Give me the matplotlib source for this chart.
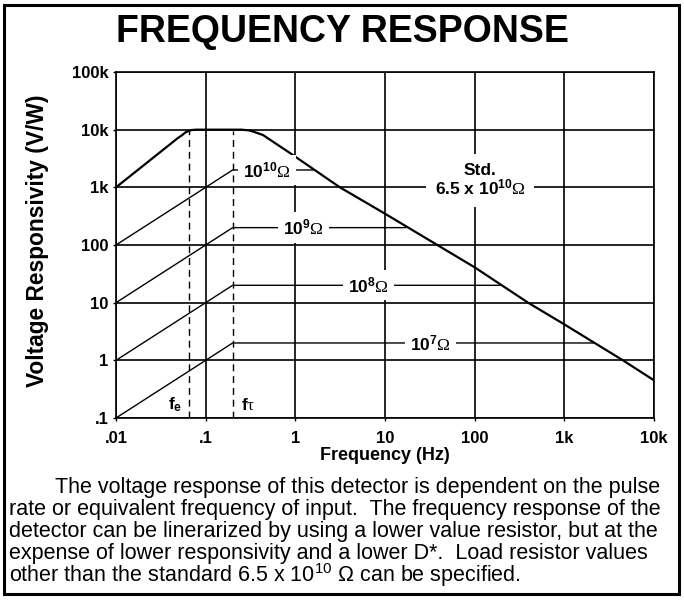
import matplotlib
matplotlib.use("Agg")
import matplotlib.pyplot as plt
from matplotlib.patches import Rectangle

plt.rcParams['font.family'] = ['Liberation Sans', 'DejaVu Sans']
plt.rcParams['mathtext.fontset'] = 'custom'
plt.rcParams['mathtext.rm'] = 'Liberation Serif'
plt.rcParams['mathtext.it'] = 'Liberation Serif:italic'
plt.rcParams['mathtext.bf'] = 'Liberation Sans:bold'
plt.rcParams['mathtext.sf'] = 'Liberation Sans'

# ---------------- data ----------------
std_freq = [0.01, 0.049, 0.055, 0.0588, 0.064, 0.070, 0.078,
            0.25, 0.30, 0.34, 0.436, 0.87, 3.14, 10, 100, 394, 1000, 4510, 10000]
std_resp = [1000, 7160, 8100, 8850, 9450, 9850, 10000,
            10000, 9750, 9250, 8070, 3940, 1000, 349, 41, 10, 4.2, 1.0, 0.45]

f_e = 0.065
f_tau = 0.2

res_names = ["10", "9", "8", "7"]          # exponent of load resistor
res_start = [100, 10, 1, 0.1]              # response at 0.01 Hz
res_plateau = [2000, 200, 20, 2]           # flat response above f_tau
res_end_freq = [1.64, 17, 190, 2100]       # where the line meets the std curve
res_label_freq = [0.48, 1.22, 6.6, 32]

x_ticks = [0.01, 0.1, 1, 10, 100, 1000, 10000]
x_tick_labels = [".01", ".1", "1", "10", "100", "1k", "10k"]
y_ticks = [0.1, 1, 10, 100, 1000, 10000, 100000]
y_tick_labels = [".1", "1", "10", "100", "1k", "10k", "100k"]

body_lines = [
    "The voltage response of this detector is dependent on the pulse",
    "rate or equivalent frequency of input.  The frequency response of the",
    "detector can be linerarized by using a lower value resistor, but at the",
    "expense of lower responsivity and a lower D*.  Load resistor values",
    r"other than the standard 6.5 x $\mathsf{10^{10}}$ Ω can be specified.",
]

# ---------------- figure ----------------
W, H = 684, 600
fig = plt.figure(figsize=(W / 100, H / 100), dpi=100)
ax = fig.add_axes([116 / W, 1 - 418 / H, (654 - 116) / W, (418 - 72) / H])
ax.set_xscale('log')
ax.set_yscale('log')
ax.set_xlim(0.01, 10000)
ax.set_ylim(0.1, 100000)

ax.set_xticks(x_ticks, labels=x_tick_labels, fontsize=12, fontweight='bold')
ax.set_yticks(y_ticks, labels=y_tick_labels, fontsize=12, fontweight='bold')
ax.minorticks_off()
ax.tick_params(axis='y', direction='out', length=2.5, width=1, pad=3)
ax.tick_params(axis='x', direction='out', length=2.5, width=1, pad=7)
ax.grid(True, color='black', linewidth=1.2)
for sp in ax.spines.values():
    sp.set_linewidth(1.2)
    sp.set_color('black')

# standard curve
ax.plot(std_freq, std_resp, color='black', linewidth=1.6, zorder=3,
        solid_joinstyle='round')

# resistor lines
for name, y0, yp, fend, flab in zip(res_names, res_start, res_plateau,
                                     res_end_freq, res_label_freq):
    ax.plot([0.01, f_tau, fend], [y0, yp, yp], color='black', linewidth=1.0, zorder=3)
    ax.text(flab, yp, r"$\mathbf{10^{%s}}\Omega$" % name, fontsize=12.5,
            ha='center', va='center', zorder=5,
            bbox=dict(boxstyle='square,pad=0.3', fc='white', ec='none'))

# standard label
ax.text(115, 1320, "Std.\n6.5 x " + r"$\mathbf{10^{10}}\Omega$", fontsize=12.5,
        fontweight='bold', ha='center', va='center', ma='center', zorder=5,
        linespacing=1.0,
        bbox=dict(boxstyle='square,pad=0.5', fc='white', ec='none'))

# dashed time-constant lines
ax.vlines([f_e, f_tau], 0.1, 9300, colors='black', linewidth=1.0,
          linestyles=(0, (5, 3.5)), zorder=2)
ax.text(0.0455, 0.17, r"$\mathbf{f_e}$", fontsize=12.5, ha='center', va='center')
ax.text(0.296, 0.17, r"$\mathbf{f}\mathrm{\tau}$", fontsize=12.5, ha='center', va='center')

# titles / labels
fig.text(0.5, 1 - 32 / H, "FREQUENCY RESPONSE", fontsize=27, fontweight='bold',
         ha='center', va='center')
fig.text(38 / W, 1 - 241 / H, "Voltage Responsivity (V/W)", fontsize=16.4,
         fontweight='bold', rotation=90, ha='center', va='center')
fig.text(385 / W, 1 - 455 / H, "Frequency (Hz)", fontsize=13, fontweight='bold',
         ha='center', va='center')

# body text
line_y = [487, 509, 531, 553, 575]
line_x = [55, 9, 9, 9, 9]
for txt, x, y in zip(body_lines, line_x, line_y):
    fig.text(x / W, 1 - y / H, txt, fontsize=15.5, ha='left', va='center')

# outer border
fig.patches.append(Rectangle((4 / W, 1 - 594 / H), 675 / W, 589 / H,
                             transform=fig.transFigure, fill=False,
                             edgecolor='black', linewidth=2.2))

fig.savefig("out.png", dpi=100)
